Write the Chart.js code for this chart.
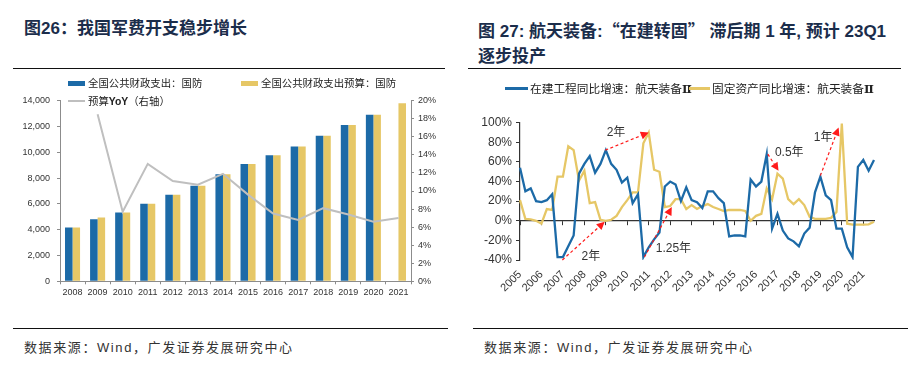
<!DOCTYPE html>
<html>
<head>
<meta charset="utf-8">
<script src="https://cdn.jsdelivr.net/npm/chart.js@4.4.0/dist/chart.umd.min.js"></script>
<style>
  html, body { margin: 0; padding: 0; background: #fff; }
  body { width: 919px; height: 369px; position: relative; overflow: hidden;
         font-family: "Liberation Sans", Arial, "Noto Sans CJK SC", sans-serif; }
  .title { position: absolute; font-size: 17px; font-weight: bold; color: #1b2d4b; line-height: 25px; white-space: nowrap; }
  .cjk { font-family: "Noto Sans CJK SC", sans-serif; }
  .rule { position: absolute; height: 0; border-top: 1.5px solid #111; }
  .src { position: absolute; font-size: 13px; color: #333; letter-spacing: 1.6px; white-space: nowrap; }
  .lg { position: absolute; font-family: "Noto Sans CJK SC", sans-serif; color: #222; white-space: nowrap; line-height: 14px; }
  .roman { font-family: "DejaVu Serif", serif; font-weight: bold; }
  .sw { position: absolute; }
  canvas { position: absolute; }
</style>
</head>
<body>
<div class="title" style="left:24px;top:16px">图26：我国军费开支稳步增长</div>
<div class="title" style="left:478px;top:17px">图 27: 航天装备:<span class="cjk">“</span>在建转固<span class="cjk">”</span> 滞后期 1 年, 预计 23Q1<br>逐步投产</div>
<div class="rule" style="left:13px;top:68px;width:432px"></div>
<div class="rule" style="left:468px;top:68px;width:433px"></div>

<canvas id="c1" width="435" height="255" style="left:13px;top:70px"></canvas>
<canvas id="c2" width="432" height="255" style="left:469px;top:70px"></canvas>

<!-- left legend -->
<div class="sw" style="left:68px;top:81px;width:17px;height:4.5px;background:#1c6aa7"></div>
<div class="lg" style="left:88px;top:76px;font-size:10.4px">全国公共财政支出：国防</div>
<div class="sw" style="left:241px;top:81px;width:17px;height:4.5px;background:#e6c766"></div>
<div class="lg" style="left:261px;top:76px;font-size:10.4px">全国公共财政支出预算：国防</div>
<div class="sw" style="left:68px;top:100px;width:17px;height:2px;background:#bfbfbf"></div>
<div class="lg" style="left:88px;top:94px;font-size:10.4px">预算<b style="font-family:'Liberation Sans',Arial">YoY</b>（右轴）</div>

<!-- right legend -->
<div class="sw" style="left:505px;top:87px;width:23px;height:3px;background:#1c6aa7"></div>
<div class="lg" style="left:530px;top:81px;font-size:11.7px">在建工程同比增速：航天装备<span class="roman">Ⅱ</span></div>
<div class="sw" style="left:689px;top:87px;width:21px;height:3px;background:#e6c766"></div>
<div class="lg" style="left:712px;top:81px;font-size:11.7px">固定资产同比增速：航天装备<span class="roman">Ⅱ</span></div>

<div class="rule" style="left:13px;top:328px;width:435px"></div>
<div class="rule" style="left:473px;top:328px;width:435px"></div>
<div class="src" style="left:24px;top:337px">数据来源：Wind，广发证券发展研究中心</div>
<div class="src" style="left:484px;top:337px">数据来源：Wind，广发证券发展研究中心</div>

<script>
// ---- figure 26 data (亿元, %) ----
const years = ['2008', '2009', '2010', '2011', '2012', '2013', '2014', '2015', '2016', '2017', '2018', '2019', '2020', '2021'];
const defenseSpend = [4178, 4807, 5333, 6012, 6703, 7410, 8290, 9088, 9766, 10444, 11280, 12122, 12918, null];
const defenseBudget = [4178, 4951, 5333, 6012, 6703, 7410, 8290, 9088, 9766, 10444, 11280, 12122, 12918, 13795];
const budgetYoY = [null, 18.5, 7.7, 13.0, 11.1, 10.7, 11.9, 9.6, 7.5, 6.8, 8.1, 7.4, 6.6, 7.0];

// ---- figure 27 data (quarterly, 2005Q1 - 2021Q3, %) ----
const quarters = [];
for (let yr = 2005; yr <= 2021; yr++) {
  for (let q = 1; q <= 4; q++) quarters.push(yr + 'Q' + q);
}
quarters.length = 67;
const cipGrowth = [54, 30, 33, 20, 19, 21, 27, -37, -37, -26, -15, 48, 58, 66, 49, 58, 72, 58, 52, 39,
  44, 18, 27, -37, -27, -19, -12, 35, 40, 37, 20, 34, 21, 19, 13, 30, 30, 23, 18, -16,
  -15, -15, -16, 42, 35, 40, 68, -8, 7, -10, -18, -21, -26, -13, -7, 29, 45, 26, 21, -8,
  -8, -27, -37, 55, 62, 51, 62];
const fixedGrowth = [21, 2, 1.5, 0, -3, 12, 11, 45, 45, 76, 72, 41, 51, 18, 19, 1, 0, 1, 5, 14,
  21, 29, 29, 79, 90, 52, 50, 14, 15, 22, 22, 12, 16, 12, 15, 17, 14, 12, 10, 11,
  11, 11, 10, 0, 5, 7, 33, 22, 48, 43, 22, 17, 22, 16, 4, 2, 2, 2, 3, 9,
  99, -3, -4, -4, -4, -3.6, -1];
// lag arrows: [quarter index, value]
const lagNotes = [
  { from: [15.9, 72], to: [24, 90], text: '2年', at: [17.9, 90] },
  { from: [7.9, -40], to: [15.8, -1], text: '2年', at: [13.2, -37] },
  { from: [23.2, -37], to: [28.3, 14], text: '1.25年', at: [28.6, -28] },
  { from: [46.2, 68], to: [48.2, 51], text: '0.5年', at: [50.2, 69] },
  { from: [56, 46], to: [59.4, 95], text: '1年', at: [56.5, 85] }
];

const BLUE = '#1c6aa7';
const GOLD = '#e6c766';
const tickFont = '"Liberation Sans", Arial, sans-serif';

// figure 26
new Chart(document.getElementById('c1'), {
  type: 'bar',
  data: {
    labels: years,
    datasets: [
      { type: 'line', label: '预算YoY（右轴）', data: budgetYoY, yAxisID: 'y1',
        borderColor: '#bfbfbf', borderWidth: 2, pointRadius: 0, order: 0 },
      { label: '全国公共财政支出：国防', data: defenseSpend, yAxisID: 'y', backgroundColor: BLUE,
        categoryPercentage: 0.6, barPercentage: 1, order: 1 },
      { label: '全国公共财政支出预算：国防', data: defenseBudget, yAxisID: 'y', backgroundColor: GOLD,
        categoryPercentage: 0.6, barPercentage: 1, order: 1 }
    ]
  },
  options: {
    responsive: false,
    animation: false,
    layout: { padding: { top: 30.7, left: 0, right: 0, bottom: 0 } },
    plugins: { legend: { display: false }, tooltip: { enabled: false } },
    scales: {
      x: {
        grid: { drawOnChartArea: false, tickLength: 3, color: '#8c8c8c', offset: true },
        border: { color: '#8c8c8c' },
        ticks: { font: { size: 9, family: tickFont }, color: '#333', padding: 3, maxRotation: 0, autoSkip: false },
        afterFit(s) { s.height = 43.7; }
      },
      y: {
        min: 0, max: 14000,
        grid: { drawOnChartArea: false, tickLength: 3, color: '#8c8c8c' },
        border: { color: '#8c8c8c' },
        ticks: { stepSize: 2000, font: { size: 9, family: tickFont }, color: '#333', padding: 7,
                 callback: v => v.toLocaleString('en-US') },
        afterFit(s) { s.width = 47; }
      },
      y1: {
        position: 'right', min: 0, max: 20,
        grid: { drawOnChartArea: false, tickLength: 3, color: '#8c8c8c' },
        border: { color: '#8c8c8c' },
        ticks: { stepSize: 2, font: { size: 9, family: tickFont }, color: '#333', padding: 4,
                 callback: v => v + '%' },
        afterFit(s) { s.width = 37; }
      }
    }
  }
});

// red dashed lag arrows on figure 27
const lagArrows = {
  id: 'lagArrows',
  afterDatasetsDraw(chart) {
    const { ctx } = chart;
    const x = chart.scales.x, y = chart.scales.y;
    ctx.save();
    lagNotes.forEach(n => {
      const x0 = x.getPixelForValue(n.from[0]), y0 = y.getPixelForValue(n.from[1]);
      const x1 = x.getPixelForValue(n.to[0]), y1 = y.getPixelForValue(n.to[1]);
      const a = Math.atan2(y1 - y0, x1 - x0);
      const head = 8, half = 4;
      const bx = x1 - head * Math.cos(a), by = y1 - head * Math.sin(a);
      ctx.strokeStyle = '#ff1a1a';
      ctx.lineWidth = 1.2;
      ctx.setLineDash([3, 2.5]);
      ctx.beginPath();
      ctx.moveTo(x0, y0);
      ctx.lineTo(bx, by);
      ctx.stroke();
      ctx.setLineDash([]);
      ctx.fillStyle = '#ff1a1a';
      ctx.beginPath();
      ctx.moveTo(x1, y1);
      ctx.lineTo(bx + half * Math.sin(a), by - half * Math.cos(a));
      ctx.lineTo(bx - half * Math.sin(a), by + half * Math.cos(a));
      ctx.closePath();
      ctx.fill();
      ctx.fillStyle = '#333';
      ctx.font = '12px "Liberation Sans", Arial, "Noto Sans CJK SC"';
      ctx.textAlign = 'center';
      ctx.textBaseline = 'middle';
      ctx.fillText(n.text, x.getPixelForValue(n.at[0]), y.getPixelForValue(n.at[1]));
    });
    ctx.restore();
  }
};

// figure 27
new Chart(document.getElementById('c2'), {
  type: 'line',
  data: {
    labels: quarters,
    datasets: [
      { label: '在建工程同比增速：航天装备Ⅱ', data: cipGrowth, borderColor: BLUE, borderWidth: 2.3, pointRadius: 0 },
      { label: '固定资产同比增速：航天装备Ⅱ', data: fixedGrowth, borderColor: GOLD, borderWidth: 2.3, pointRadius: 0 }
    ]
  },
  options: {
    responsive: false,
    animation: false,
    layout: { padding: { top: 52.7, left: 0, right: 27, bottom: 0 } },
    plugins: { legend: { display: false }, tooltip: { enabled: false } },
    scales: {
      x: {
        position: { y: 0 },
        offset: false,
        grid: {
          drawOnChartArea: false, tickLength: 4,
          color: c => (c.index % 4 === 0 ? '#333' : 'rgba(0,0,0,0)'),
          tickColor: c => (c.index % 4 === 0 ? '#333' : 'rgba(0,0,0,0)')
        },
        border: { color: '#333', width: 1.2 },
        ticks: { display: false }
      },
      x2: {
        type: 'category',
        position: 'bottom',
        offset: false,
        grid: { display: false, drawTicks: false },
        border: { display: false },
        ticks: {
          autoSkip: false, maxRotation: 45, minRotation: 45, padding: 8,
          font: { size: 11, family: tickFont }, color: '#333',
          callback: (v, i) => (i % 4 === 0 ? quarters[i].slice(0, 4) : '')
        },
        afterFit(s) { s.height = 65; }
      },
      y: {
        min: -40, max: 100,
        grid: { drawOnChartArea: false, tickLength: 4, color: '#333' },
        border: { color: '#333', width: 1.2 },
        ticks: { stepSize: 20, font: { size: 12, family: tickFont }, color: '#333', padding: 4,
                 callback: v => v + '%' },
        afterFit(s) { s.width = 51; }
      }
    }
  },
  plugins: [lagArrows]
});
</script>
</body>
</html>
